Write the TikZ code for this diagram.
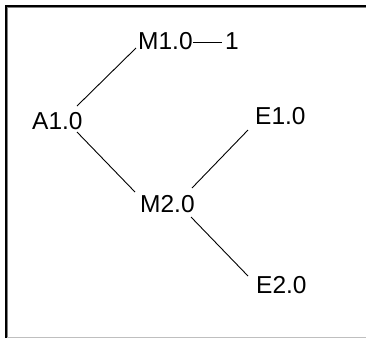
\documentclass[tikz,border=0pt]{standalone}
\usepackage{fontspec}
\setmainfont{Liberation Sans}
\begin{document}
\begin{tikzpicture}[x=1pt,y=1pt,
  lbl/.style={anchor=base west,inner sep=0pt,font=\fontsize{24.5}{28}\selectfont},
  conn/.style={draw=black,line width=0.9pt}]
\useasboundingbox (0,0) rectangle (366,-338);
\fill[white] (0,0) rectangle (366,-338);
% panel frame
\draw[black,line width=2pt] (6,-338) -- (6,-6) -- (366,-6);
\draw[black!50,line width=1pt] (7.5,-338) -- (7.5,-7.5) -- (366,-7.5);
\draw[black!25,line width=1.2pt] (7,-337.4) -- (366,-337.4);
% nodes
\node[lbl] (M1) at (138,-49) {M1.0};
\node[lbl] (one) at (225,-49) {1};
\node[lbl] (A1) at (32,-129) {A1.0};
\node[lbl] (E1) at (255,-124) {E1.0};
\node[lbl] (M2) at (140,-212) {M2.0};
\node[lbl] (E2) at (256,-293) {E2.0};
% connectors
\draw[conn] ([shift={(-2,1)}]M1.base west) -- ([shift={(45,23)}]A1.base west);
\draw[conn] ([shift={(55,7)}]M1.base west) -- ([shift={(-3,7)}]one.base west);
\draw[conn] ([shift={(45,-3)}]A1.base west) -- ([shift={(-5,20)}]M2.base west);
\draw[conn] ([shift={(52,24)}]M2.base west) -- ([shift={(-7,-6)}]E1.base west);
\draw[conn] ([shift={(51,-5)}]M2.base west) -- ([shift={(-8,17)}]E2.base west);
\end{tikzpicture}
\end{document}
